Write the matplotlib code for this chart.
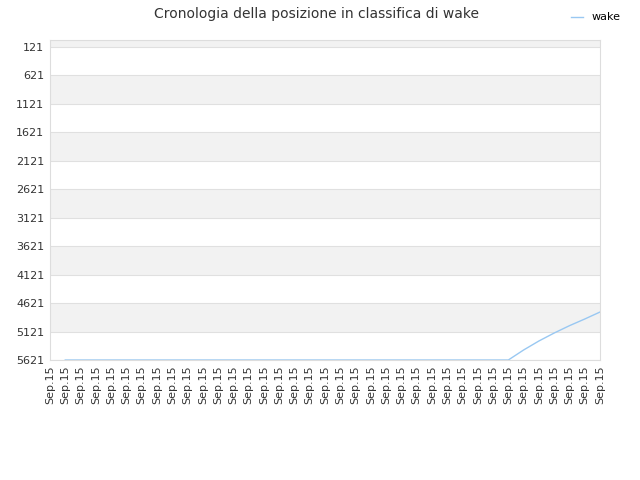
import matplotlib
matplotlib.use("Agg")
import matplotlib.pyplot as plt
import numpy as np

# x labels: every point is on "Sep.15"
dates = ["Sep.15"] * 37
# rank of wake (first slot has no data)
ranks = [np.nan] + [5621] * 30 + [5445, 5287, 5147, 5018, 4901, 4778]
yticks = list(range(121, 5622, 500))

fig = plt.figure(figsize=(6.4, 4.8), dpi=100)
ax = fig.add_axes([50 / 640, 120 / 480, 550 / 640, 320 / 480])

x = np.arange(len(dates))
ax.plot(x, ranks, color="#99c8f2", linewidth=1.0, label="wake")

ax.set_xlim(0, len(dates) - 1)
ax.set_ylim(5621, -2)

# alternating bands
edges = [-2] + yticks
for i in range(len(edges) - 1):
    if i % 2 == 0:
        ax.axhspan(edges[i], edges[i + 1], color="#f2f2f2", zorder=0, linewidth=0)
for t in yticks:
    ax.axhline(t, color="#e0e0e0", linewidth=0.8, zorder=0.5)

ax.set_yticks(yticks)
ax.set_yticklabels([str(t) for t in yticks])
ax.set_xticks(x)
ax.set_xticklabels(dates, rotation=90)
ax.tick_params(axis="both", labelsize=8, colors="#333333", length=0, pad=4)
for s in ax.spines.values():
    s.set_color("#dddddd")
    s.set_linewidth(0.8)

fig.suptitle("Cronologia della posizione in classifica di wake", x=0.495, y=0.985,
             fontsize=10, color="#333333")
fig.legend(loc="upper right", bbox_to_anchor=(0.985, 0.995), frameon=False,
           fontsize=8, handlelength=1.0, handletextpad=0.8)

plt.savefig("out.png", dpi=100)
